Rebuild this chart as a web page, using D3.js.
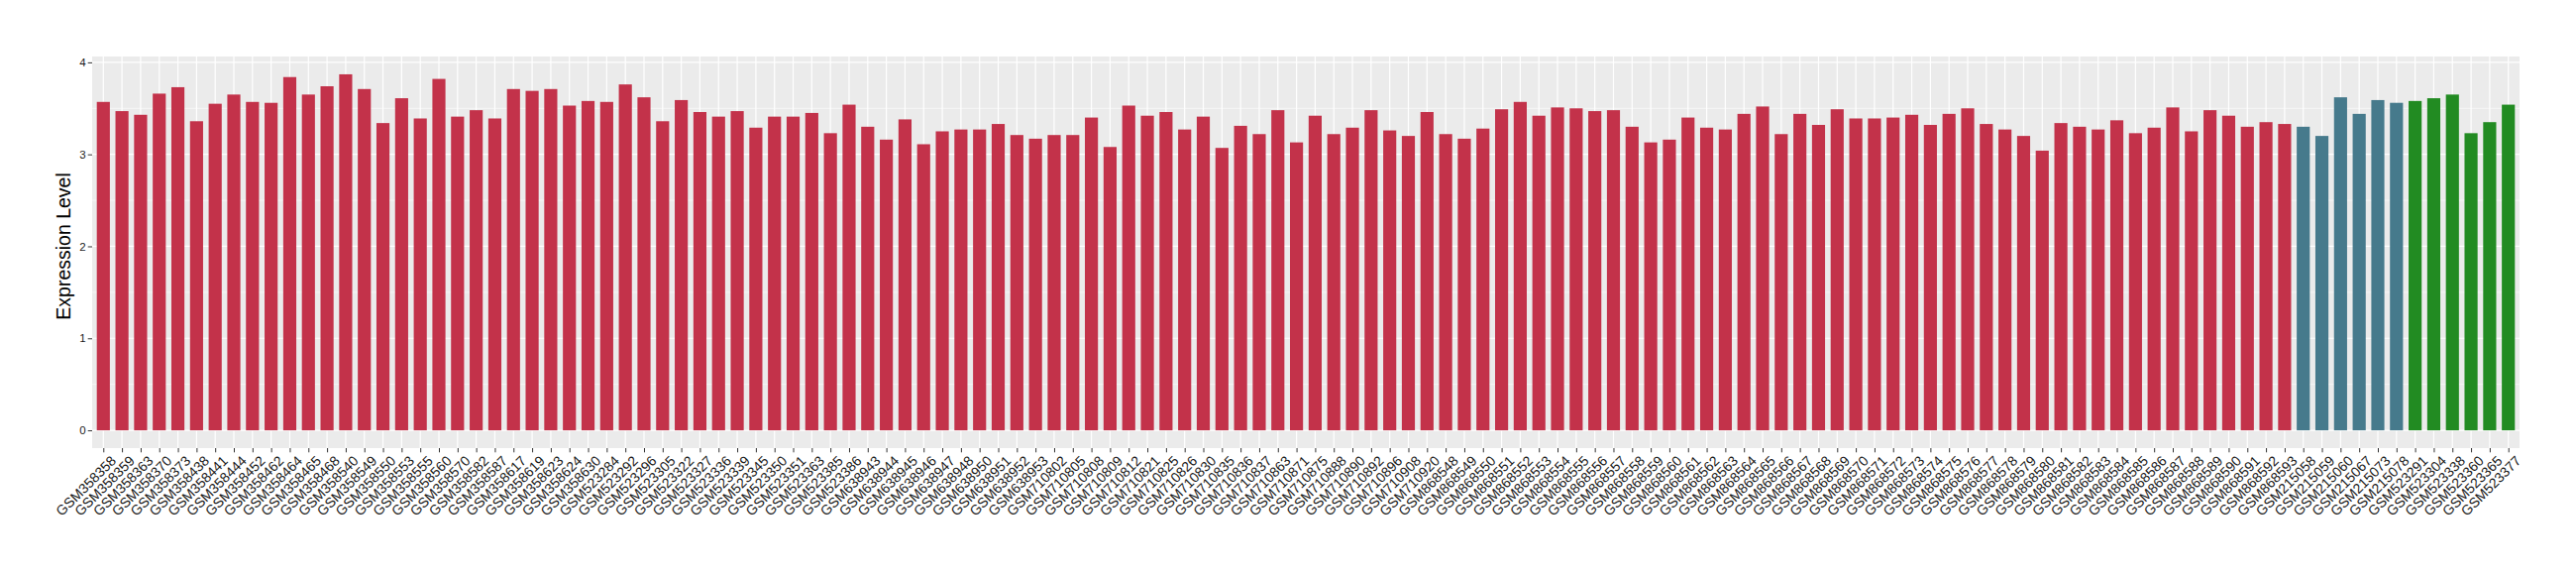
<!DOCTYPE html>
<html>
<head>
<meta charset="utf-8">
<script src="https://cdn.jsdelivr.net/npm/d3@7"></script>
<style>
    body { margin: 0; background: #fff; }
    text { font-family: "Liberation Sans", Arial, sans-serif; }
</style>
</head>
<body>
<div id="expression-barplot"></div>
<script>
// samples, in plot order
let samples = [
    "GSM358358","GSM358359","GSM358363","GSM358370","GSM358373","GSM358438","GSM358441","GSM358444","GSM358452","GSM358462",
    "GSM358464","GSM358465","GSM358468","GSM358540","GSM358549","GSM358550","GSM358553","GSM358555","GSM358560","GSM358570",
    "GSM358582","GSM358587","GSM358617","GSM358619","GSM358623","GSM358624","GSM358630","GSM523284","GSM523292","GSM523296",
    "GSM523305","GSM523322","GSM523327","GSM523336","GSM523339","GSM523345","GSM523350","GSM523351","GSM523363","GSM523385",
    "GSM523386","GSM638943","GSM638944","GSM638945","GSM638946","GSM638947","GSM638948","GSM638950","GSM638951","GSM638952",
    "GSM638953","GSM710802","GSM710805","GSM710808","GSM710809","GSM710812","GSM710821","GSM710825","GSM710826","GSM710830",
    "GSM710835","GSM710836","GSM710837","GSM710863","GSM710871","GSM710875","GSM710888","GSM710890","GSM710892","GSM710896",
    "GSM710908","GSM710920","GSM868548","GSM868549","GSM868550","GSM868551","GSM868552","GSM868553","GSM868554","GSM868555",
    "GSM868556","GSM868557","GSM868558","GSM868559","GSM868560","GSM868561","GSM868562","GSM868563","GSM868564","GSM868565",
    "GSM868566","GSM868567","GSM868568","GSM868569","GSM868570","GSM868571","GSM868572","GSM868573","GSM868574","GSM868575",
    "GSM868576","GSM868577","GSM868578","GSM868579","GSM868580","GSM868581","GSM868582","GSM868583","GSM868584","GSM868585",
    "GSM868586","GSM868587","GSM868588","GSM868589","GSM868590","GSM868591","GSM868592","GSM868593","GSM215058","GSM215059",
    "GSM215060","GSM215067","GSM215073","GSM215078","GSM523291","GSM523304","GSM523338","GSM523360","GSM523365","GSM523377"
];

let expression = [
    3.57,3.47,3.43,3.66,3.73,3.36,3.55,3.65,3.57,3.56,
    3.84,3.65,3.74,3.87,3.71,3.34,3.61,3.39,3.82,3.41,
    3.48,3.39,3.71,3.69,3.71,3.53,3.58,3.57,3.76,3.62,
    3.36,3.59,3.46,3.41,3.47,3.29,3.41,3.41,3.45,3.23,
    3.54,3.30,3.16,3.38,3.11,3.25,3.27,3.27,3.33,3.21,
    3.17,3.21,3.21,3.40,3.08,3.53,3.42,3.46,3.27,3.41,
    3.07,3.31,3.22,3.48,3.13,3.42,3.22,3.29,3.48,3.26,
    3.20,3.46,3.22,3.17,3.28,3.49,3.57,3.42,3.51,3.50,
    3.47,3.48,3.30,3.13,3.16,3.40,3.29,3.27,3.44,3.52,
    3.22,3.44,3.32,3.49,3.39,3.39,3.40,3.43,3.32,3.44,
    3.50,3.33,3.27,3.20,3.04,3.34,3.30,3.27,3.37,3.23,
    3.29,3.51,3.25,3.48,3.42,3.30,3.35,3.33,3.30,3.20,
    3.62,3.44,3.59,3.56,3.58,3.61,3.65,3.23,3.35,3.54
];

// group of each sample: first 118 one group, then 6 and 6
let groups = samples.map((d, i) => i < 118 ? "A" : (i < 124 ? "B" : "C"));
let groupNames = ["A", "B", "C"];
let groupColors = ["#c3324a", "#467a8c", "#228b22"];

let yTicks = [0, 1, 2, 3, 4];
let yMinor = [0.5, 1.5, 2.5, 3.5];

function ExpressionBarplot(samples, values, groups){
    let self = this;
    self.data = samples.map((s, i) => ({sample: s, value: values[i], group: groups[i]}));
    self.init();
};

ExpressionBarplot.prototype.init = function(){
    let self = this;
    self.margin = {top: 57, right: 57, bottom: 128, left: 93};

    let div = d3.select("#expression-barplot").html("");
    self.svgWidth = 2600;
    self.svgHeight = 580;
    self.width = self.svgWidth - self.margin.left - self.margin.right;
    self.height = self.svgHeight - self.margin.top - self.margin.bottom;

    self.svg = div.append("svg")
        .attr("width", self.svgWidth)
        .attr("height", self.svgHeight);

    self.update();
};

ExpressionBarplot.prototype.update = function(){
    let self = this;
    let n = self.data.length;

    let g = self.svg.append("g")
        .attr("transform", "translate(" + self.margin.left + "," + self.margin.top + ")");

    // discrete scale with ggplot style 0.6 unit expansion on each side
    let step = self.width / (n - 1 + 1.2);
    let x = d3.scalePoint()
        .domain(self.data.map(d => d.sample))
        .range([0.6 * step, self.width - 0.6 * step]);

    let maxV = d3.max(self.data, d => d.value);
    let pad = maxV * 0.05;
    let y = d3.scaleLinear()
        .domain([-pad, maxV + pad])
        .range([self.height, 0]);

    let color = d3.scaleOrdinal().domain(groupNames).range(groupColors);

    // panel
    g.append("rect")
        .attr("width", self.width)
        .attr("height", self.height)
        .attr("fill", "#ebebeb");

    g.append("g").selectAll("line")
        .data(yMinor)
        .enter().append("line")
        .attr("x1", 0).attr("x2", self.width)
        .attr("y1", d => y(d)).attr("y2", d => y(d))
        .attr("stroke", "#fff").attr("stroke-width", 0.6);

    g.append("g").selectAll("line")
        .data(yTicks)
        .enter().append("line")
        .attr("x1", 0).attr("x2", self.width)
        .attr("y1", d => y(d)).attr("y2", d => y(d))
        .attr("stroke", "#fff").attr("stroke-width", 1.2);

    g.append("g").selectAll("line")
        .data(self.data)
        .enter().append("line")
        .attr("x1", d => x(d.sample)).attr("x2", d => x(d.sample))
        .attr("y1", 0).attr("y2", self.height)
        .attr("stroke", "#fff").attr("stroke-width", 1.2);

    // bars
    let bw = step * 0.7;
    g.append("g")
        .selectAll("rect")
        .data(self.data)
        .enter()
        .append("rect")
        .attr("x", d => x(d.sample) - bw / 2)
        .attr("width", bw)
        .attr("y", d => y(d.value))
        .attr("height", d => y(0) - y(d.value))
        .attr("fill", d => color(d.group));

    // y axis
    let yAxis = g.append("g")
        .call(d3.axisLeft(y).tickValues(yTicks).tickSize(4.3).tickPadding(2).tickFormat(d3.format("d")));
    yAxis.select(".domain").remove();
    yAxis.selectAll(".tick line").attr("stroke", "#333");
    yAxis.selectAll(".tick text")
        .attr("fill", "#1a1a1a")
        .style("font-size", "11.5px");

    // x axis
    let xAxis = g.append("g")
        .attr("transform", "translate(0," + self.height + ")")
        .call(d3.axisBottom(x).tickSize(4.3).tickFormat(d => d));
    xAxis.select(".domain").remove();
    xAxis.selectAll(".tick line").attr("stroke", "#333");
    xAxis.selectAll(".tick text")
        .attr("fill", "#1a1a1a")
        .style("font-size", "14px")
        .attr("text-anchor", "end")
        .attr("x", 0)
        .attr("y", 0)
        .attr("dy", "0.72em")
        .attr("transform", "translate(6,6.5) rotate(-45)");

    self.svg.append("text")
        .attr("transform", "translate(71," + (self.margin.top + y(2)) + ") rotate(-90)")
        .attr("text-anchor", "middle")
        .style("font-size", "19.5px")
        .attr("fill", "#000")
        .text("Expression Level");
};

new ExpressionBarplot(samples, expression, groups);
</script>
</body>
</html>
